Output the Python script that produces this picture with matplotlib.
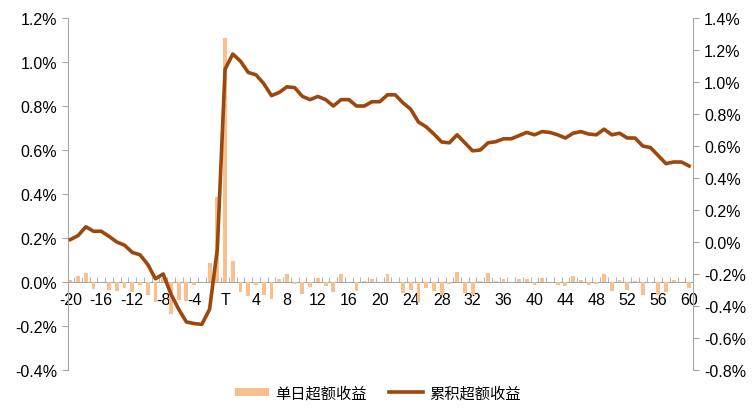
import matplotlib
matplotlib.use("Agg")
import matplotlib.pyplot as plt
from matplotlib.ticker import FuncFormatter
from matplotlib.patches import Patch
from matplotlib.lines import Line2D
import numpy as np

plt.rcParams['font.family'] = ['Liberation Sans', 'Noto Sans CJK SC', 'DejaVu Sans']

days = list(range(-20, 61))
tick_days = list(range(-20, 61, 4))
tick_labels = ['T' if d == 0 else str(d) for d in tick_days]

# single-day excess return (%), left axis
daily = [0.008, 0.028, 0.042, -0.032, 0.0, -0.035, -0.042, -0.027, -0.045, -0.015,
         -0.06, -0.09, 0.02, -0.145, -0.08, -0.087, -0.015, 0.0, 0.088, 0.385,
         1.11,
         0.095, -0.045, -0.065, -0.015, -0.058, -0.076, 0.015, 0.038, -0.01, -0.053,
         -0.023, 0.018, -0.018, -0.045, 0.035, 0.0, -0.042, 0.005, 0.015, 0.002,
         0.038, 0.0, -0.048, -0.038, -0.09, -0.027, -0.042, -0.058, -0.01, 0.045,
         -0.048, -0.058, 0.003, 0.042, 0.005, 0.015, 0.0, 0.012, 0.015, -0.015,
         0.02, 0.0, -0.015, -0.02, 0.026, 0.008, -0.015, -0.008, 0.035, -0.04,
         0.01, -0.035, 0.005, -0.058, -0.005, -0.058, -0.045, 0.01, 0.0, -0.027]

# cumulative excess return (%), right axis
cumul = [0.015, 0.04, 0.095, 0.067, 0.067, 0.035, 0.0, -0.02, -0.065, -0.08,
         -0.14, -0.23, -0.20, -0.325, -0.42, -0.50, -0.51, -0.515, -0.42, -0.045,
         1.08,
         1.175, 1.13, 1.06, 1.045, 0.99, 0.915, 0.935, 0.97, 0.965, 0.91,
         0.89, 0.91, 0.89, 0.85, 0.89, 0.89, 0.85, 0.85, 0.877, 0.877,
         0.92, 0.92, 0.87, 0.83, 0.75, 0.72, 0.675, 0.625, 0.62, 0.67,
         0.62, 0.57, 0.575, 0.62, 0.627, 0.645, 0.645, 0.665, 0.685, 0.67,
         0.69, 0.685, 0.67, 0.65, 0.68, 0.69, 0.675, 0.67, 0.705, 0.67,
         0.68, 0.65, 0.65, 0.60, 0.59, 0.54, 0.49, 0.50, 0.50, 0.475]

left_ticks = [-0.4, -0.2, 0.0, 0.2, 0.4, 0.6, 0.8, 1.0, 1.2]
right_ticks = [-0.8, -0.6, -0.4, -0.2, 0.0, 0.2, 0.4, 0.6, 0.8, 1.0, 1.2, 1.4]

bar_color = '#F8C08F'
line_color = '#9C470D'
axis_gray = '#A6A6A6'

fig = plt.figure(figsize=(7.56, 4.14), dpi=100)
ax = fig.add_axes([0.09, 0.104, 0.8267, 0.85])
ax.bar(days, daily, width=0.5, color=bar_color, zorder=2)
ax.set_ylim(-0.4, 1.2)
ax.set_yticks(left_ticks)
ax.yaxis.set_major_formatter(FuncFormatter(lambda v, p: f'{v:.1f}%'))
ax.set_xlim(-20.3, 60.5)

ax.spines['top'].set_visible(False)
ax.spines['right'].set_visible(False)
ax.spines['left'].set_color(axis_gray)
ax.spines['bottom'].set_position(('data', 0))
ax.spines['bottom'].set_color(axis_gray)
ax.spines['bottom'].set_zorder(1)

ax.set_xticks(tick_days)
ax.set_xticklabels(tick_labels)
ax.set_xticks(np.arange(-19.5, 60.5, 1), minor=True)
ax.tick_params(axis='x', which='major', length=0, pad=7, labelsize=11.5)
ax.tick_params(axis='x', which='minor', direction='in', length=3.5, color=axis_gray)
ax.tick_params(axis='y', length=4, color=axis_gray, labelsize=11.5, pad=4)

ax2 = ax.twinx()
ax2.plot(days, cumul, color=line_color, linewidth=2.6, zorder=3)
ax2.set_ylim(-0.8, 1.4)
ax2.set_yticks(right_ticks)
ax2.yaxis.set_major_formatter(FuncFormatter(lambda v, p: f'{v:.1f}%'))
for s in ['top', 'left', 'bottom']:
    ax2.spines[s].set_visible(False)
ax2.spines['right'].set_color(axis_gray)
ax2.tick_params(axis='y', length=4, color=axis_gray, labelsize=11.5, pad=4)
ax2.set_xlim(-20.3, 60.5)

handles = [Patch(facecolor=bar_color, edgecolor='none'),
           Line2D([0], [0], color=line_color, linewidth=2.6)]
fig.legend(handles, ['单日超额收益', '累积超额收益'], loc='lower center',
           bbox_to_anchor=(0.5, -0.005), ncol=2, frameon=False,
           prop={'family': ['Noto Sans CJK SC', 'DejaVu Sans'], 'size': 11},
           handlelength=2.2, handleheight=0.5, columnspacing=1.5, handletextpad=0.4)

fig.savefig('out.png', dpi=100)
